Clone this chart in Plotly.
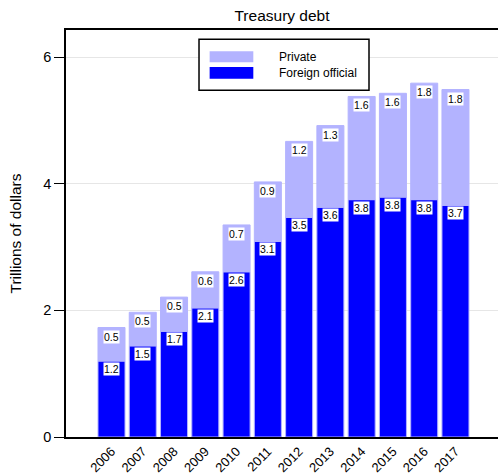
import plotly.graph_objects as go

years = [2006, 2007, 2008, 2009, 2010, 2011, 2012, 2013, 2014, 2015, 2016, 2017]
foreign_official = [1.20, 1.44, 1.67, 2.04, 2.61, 3.09, 3.47, 3.63, 3.75, 3.79, 3.75, 3.66]
private = [0.53, 0.53, 0.54, 0.57, 0.74, 0.94, 1.20, 1.29, 1.63, 1.64, 1.84, 1.83]
foreign_labels = ["1.2", "1.5", "1.7", "2.1", "2.6", "3.1", "3.5", "3.6", "3.8", "3.8", "3.8", "3.7"]
private_labels = ["0.5", "0.5", "0.5", "0.6", "0.7", "0.9", "1.2", "1.3", "1.6", "1.6", "1.8", "1.8"]
y_ticks = [0, 2, 4, 6]

FONT = "Liberation Sans, Arial, sans-serif"
BLUE = "#0000FF"
LAV = "#B3B3FF"

fig = go.Figure()
fig.add_trace(go.Bar(x=years, y=foreign_official, name="Foreign official",
                     marker=dict(color=BLUE, line=dict(color=LAV, width=1)),
                     width=0.864, hoverinfo="x+y"))
fig.add_trace(go.Bar(x=years, y=private, name="Private", base=foreign_official,
                     marker=dict(color=LAV, line=dict(color=LAV, width=1)),
                     width=0.864, hoverinfo="x+y"))

annotations = []
for yr, f, p, fl, pl in zip(years, foreign_official, private, foreign_labels, private_labels):
    annotations.append(dict(x=yr, y=f, xref="x", yref="y", text=fl, showarrow=False,
                            yanchor="top", yshift=-1, bgcolor="white", borderpad=0,
                            font=dict(size=10.5, color="black", family=FONT)))
    annotations.append(dict(x=yr, y=f + p, xref="x", yref="y", text=pl, showarrow=False,
                            yanchor="top", yshift=-2, bgcolor="white", borderpad=0,
                            font=dict(size=10.5, color="black", family=FONT)))

# manual legend
legend_items = [("Private", LAV, 0.9478, 0.9208), ("Foreign official", BLUE, 0.9091, 0.8804)]
shapes = [dict(type="rect", xref="paper", yref="paper", x0=0.3079, x1=0.7014, y0=0.852, y1=0.977,
               line=dict(color="black", width=1.5), fillcolor="white", layer="above")]
for name, col, y1, y0 in legend_items:
    shapes.append(dict(type="rect", xref="paper", yref="paper", x0=0.3325, x1=0.4336, y0=y0, y1=y1,
                       line=dict(width=0), fillcolor=col, layer="above"))
    annotations.append(dict(x=0.4884, y=(y0 + y1) / 2, xref="paper", yref="paper", text=name,
                            showarrow=False, xanchor="left", yanchor="middle",
                            font=dict(size=12, color="black", family=FONT)))

fig.update_layout(
    width=498, height=476,
    margin=dict(l=66, r=0, t=30, b=39),
    paper_bgcolor="white", plot_bgcolor="white",
    barmode="overlay",
    showlegend=False,
    font=dict(family=FONT, color="black"),
    title=dict(text="Treasury debt", x=0.5, xref="paper", xanchor="center", y=0.967, yanchor="middle",
               font=dict(size=15.5, family=FONT, color="black")),
    annotations=annotations,
    shapes=shapes,
    xaxis=dict(range=[2004.545, 2018.36], tickvals=years, ticktext=[str(y) for y in years],
               tickangle=-45, showline=True, linecolor="black", linewidth=1.5, mirror=True,
               showgrid=False, ticks="", tickfont=dict(size=13, family=FONT, color="black"),
               zeroline=False, fixedrange=True, automargin=False),
    yaxis=dict(range=[0, 6.43], tickvals=y_ticks, ticktext=[str(v) for v in y_ticks],
               showline=True, linecolor="black", linewidth=1.5, ticks="outside", ticklen=10,
               tickcolor="black", showgrid=True, gridcolor="#E6E6E6", gridwidth=1,
               zeroline=False, tickfont=dict(size=14.5, family=FONT, color="black"),
               title=dict(text="Trillions of dollars", font=dict(size=15.5, family=FONT, color="black"),
                          standoff=18),
               fixedrange=True, automargin=False),
)

fig.write_html("out.html", config={"displayModeBar": False},
               post_script="document.body.style.margin='0';document.body.style.overflow='hidden';")
